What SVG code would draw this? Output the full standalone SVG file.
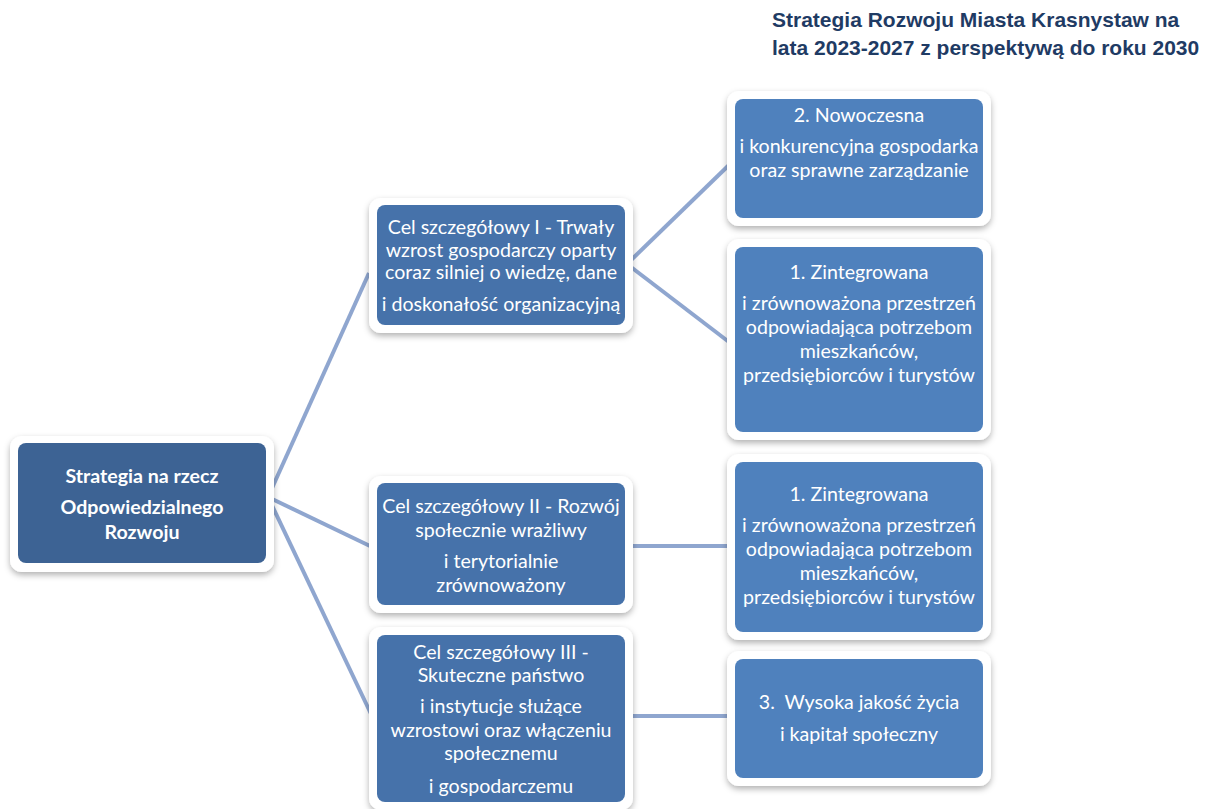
<svg xmlns="http://www.w3.org/2000/svg" width="1219" height="809" viewBox="0 0 1219 809">
<defs>
<filter id="sh" x="-10%" y="-10%" width="120%" height="125%">
<feDropShadow dx="0" dy="3" stdDeviation="3" flood-color="#000" flood-opacity="0.3"/>
</filter>
<style>
.frame{fill:#fff;filter:url(#sh);}
.root{fill:#3D6394;}
.l2{fill:#4672AA;}
.l3{fill:#4F81BD;}
.t{font-family:Lato,"Open Sans",sans-serif;font-size:19.6px;fill:#fff;text-anchor:middle;}
.tb{font-weight:bold;}
.title{font-family:"Liberation Sans",Arial,sans-serif;font-size:21px;font-weight:bold;fill:#1F3B64;}
.c{stroke:#8FA6CF;stroke-width:4;fill:none;}
</style>
</defs>
<rect width="1219" height="809" fill="#fff"/>
<text class="title" x="772" y="27">Strategia Rozwoju Miasta Krasnystaw na</text>
<text class="title" x="772" y="55">lata 2023-2027 z perspektywą do roku 2030</text>
<g id="connectors">
<line class="c" x1="268" y1="497" x2="369" y2="273"/>
<line class="c" x1="268" y1="497" x2="370" y2="546"/>
<line class="c" x1="268" y1="497" x2="372" y2="716"/>
<line class="c" x1="627" y1="264" x2="729" y2="165"/>
<line class="c" x1="627" y1="264" x2="729" y2="342"/>
<line class="c" x1="628" y1="546" x2="729" y2="546"/>
<line class="c" x1="628" y1="716" x2="729" y2="716"/>
</g>
<g id="root">
<rect class="frame" x="10" y="436" width="264" height="136" rx="12"/>
<rect class="root" x="18" y="443" width="248" height="120" rx="8"/>
<text class="t tb" x="142" y="483">Strategia na rzecz</text>
<text class="t tb" x="142" y="514">Odpowiedzialnego</text>
<text class="t tb" x="142" y="539">Rozwoju</text>
</g>
<g id="cel1">
<rect class="frame" x="369" y="198" width="264" height="135" rx="12"/>
<rect class="l2" x="377" y="205" width="248" height="120" rx="8"/>
<text class="t" x="501" y="234">Cel szczegółowy I - Trwały</text>
<text class="t" x="501" y="257">wzrost gospodarczy oparty</text>
<text class="t" x="501" y="279">coraz silniej o wiedzę, dane</text>
<text class="t" x="501" y="311">i doskonałość organizacyjną</text>
</g>
<g id="cel2">
<rect class="frame" x="369" y="476" width="264" height="137" rx="12"/>
<rect class="l2" x="377" y="483" width="248" height="122" rx="8"/>
<text class="t" x="501" y="513">Cel szczegółowy II - Rozwój</text>
<text class="t" x="501" y="537">społecznie wrażliwy</text>
<text class="t" x="501" y="568">i terytorialnie</text>
<text class="t" x="501" y="592">zrównoważony</text>
</g>
<g id="cel3">
<rect class="frame" x="369" y="627" width="264" height="183" rx="12"/>
<rect class="l2" x="377" y="635" width="248" height="167" rx="8"/>
<text class="t" x="501" y="659">Cel szczegółowy III -</text>
<text class="t" x="501" y="682">Skuteczne państwo</text>
<text class="t" x="501" y="713">i instytucje służące</text>
<text class="t" x="501" y="737">wzrostowi oraz włączeniu</text>
<text class="t" x="501" y="760">społecznemu</text>
<text class="t" x="501" y="793">i gospodarczemu</text>
</g>
<g id="cel-2-nowoczesna">
<rect class="frame" x="727" y="91" width="264" height="135" rx="12"/>
<rect class="l3" x="735" y="99" width="248" height="119" rx="8"/>
<text class="t" x="859" y="122">2. Nowoczesna</text>
<text class="t" x="859" y="153">i konkurencyjna gospodarka</text>
<text class="t" x="859" y="177">oraz sprawne zarządzanie</text>
</g>
<g id="cel-1-zintegrowana-a">
<rect class="frame" x="727" y="239" width="264" height="201" rx="12"/>
<rect class="l3" x="735" y="247" width="248" height="185" rx="8"/>
<text class="t" x="859" y="279">1. Zintegrowana</text>
<text class="t" x="859" y="310">i zrównoważona przestrzeń</text>
<text class="t" x="859" y="334">odpowiadająca potrzebom</text>
<text class="t" x="859" y="358">mieszkańców,</text>
<text class="t" x="859" y="382">przedsiębiorców i turystów</text>
</g>
<g id="cel-1-zintegrowana-b">
<rect class="frame" x="727" y="454" width="264" height="186" rx="12"/>
<rect class="l3" x="735" y="462" width="248" height="170" rx="8"/>
<text class="t" x="859" y="501">1. Zintegrowana</text>
<text class="t" x="859" y="532">i zrównoważona przestrzeń</text>
<text class="t" x="859" y="556">odpowiadająca potrzebom</text>
<text class="t" x="859" y="580">mieszkańców,</text>
<text class="t" x="859" y="604">przedsiębiorców i turystów</text>
</g>
<g id="cel-3-wysoka">
<rect class="frame" x="727" y="651" width="264" height="135" rx="12"/>
<rect class="l3" x="735" y="659" width="248" height="119" rx="8"/>
<text class="t" x="859" y="709" xml:space="preserve">3.  Wysoka jakość życia</text>
<text class="t" x="859" y="741">i kapitał społeczny</text>
</g>
</svg>
